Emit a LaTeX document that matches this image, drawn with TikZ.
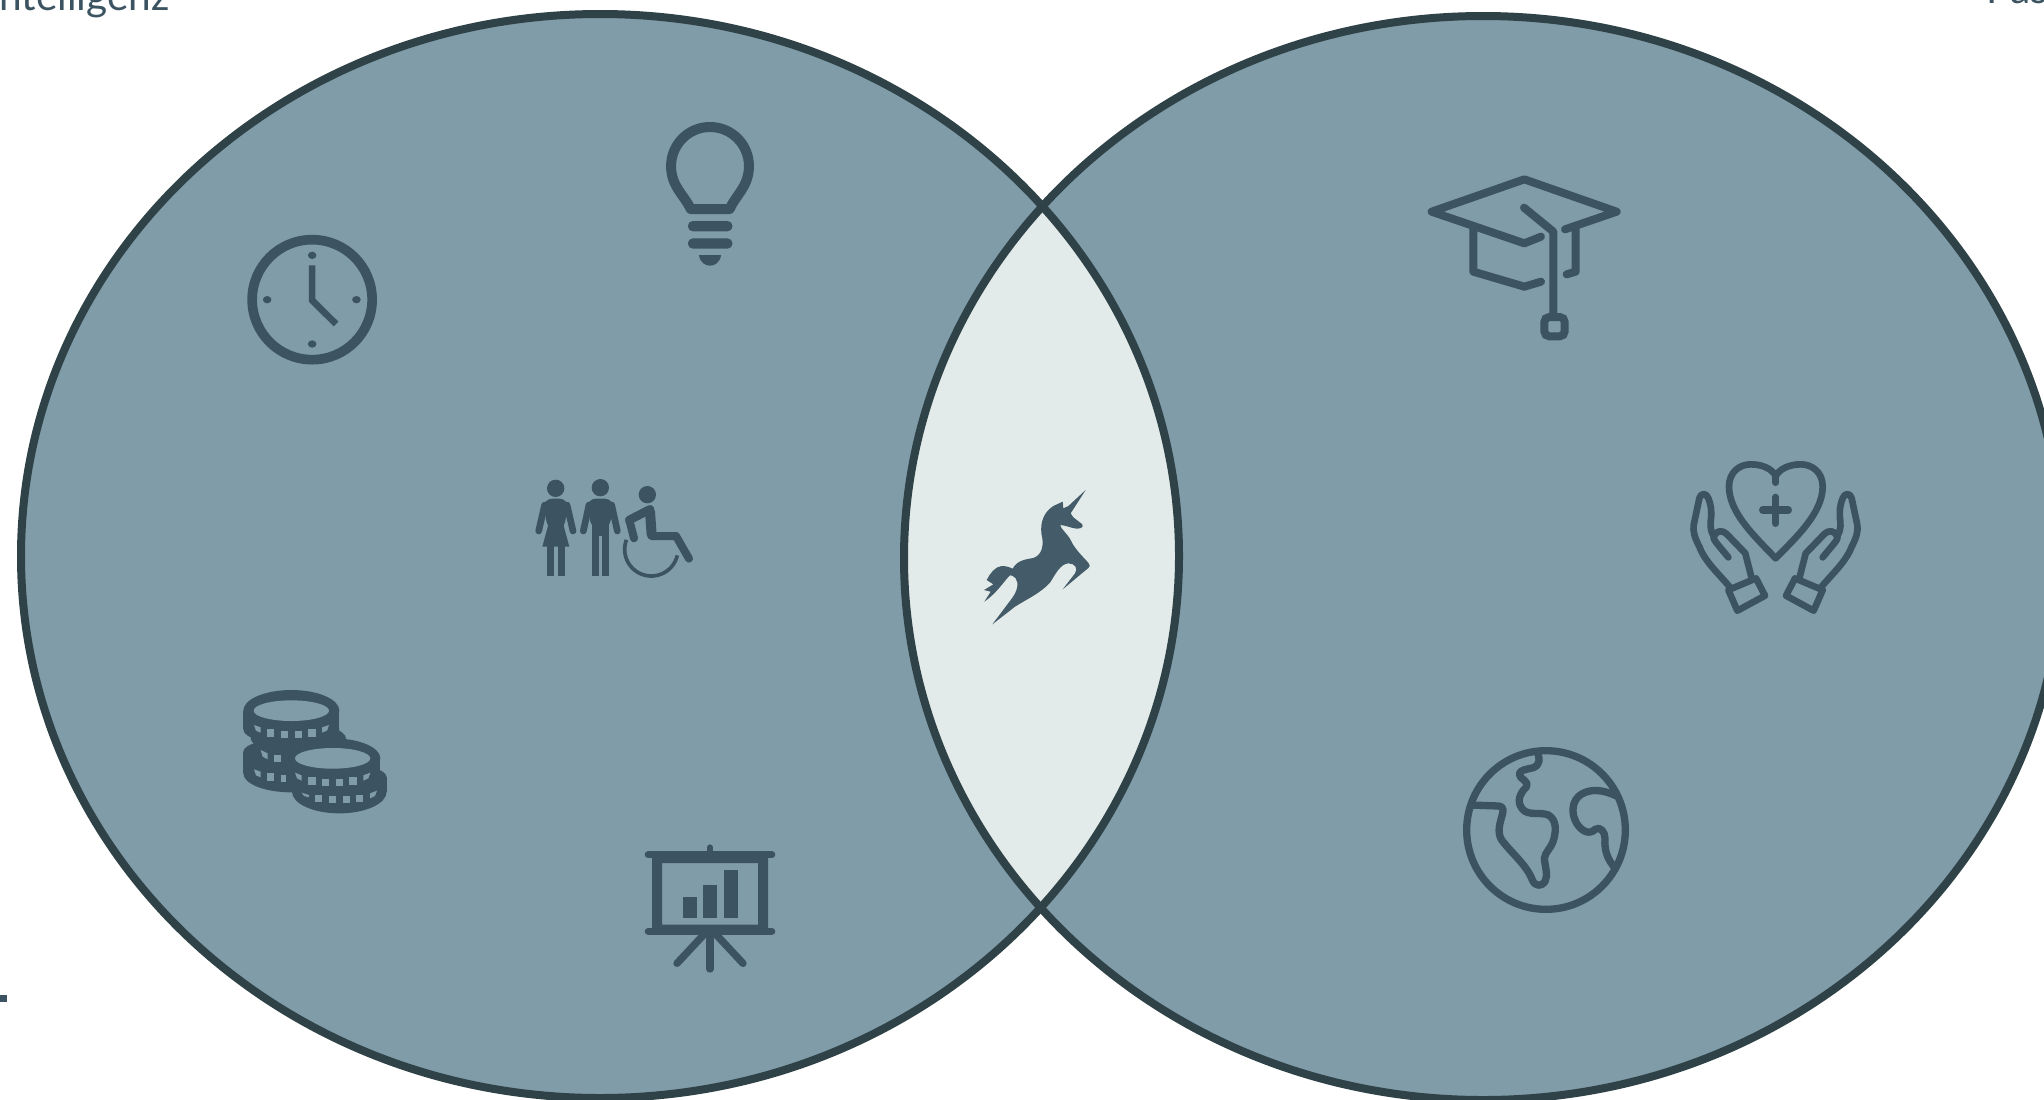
\documentclass[tikz,border=0pt]{standalone}
\usepackage{fontspec}
\setmainfont{Lato}
\definecolor{discfill}{HTML}{809CA8}
\definecolor{lensfill}{HTML}{E2EBE9}
\definecolor{discline}{HTML}{2F4247}
\definecolor{iconcol}{HTML}{3C5361}
\definecolor{unicorncol}{HTML}{445C69}
\tikzset{
  zw/.style={line width=#1*0.16667pt},
  iconline/.style={draw=iconcol,zw=#1,line cap=round,line join=round},
  iconfill/.style={fill=iconcol,draw=none},
  holefill/.style={fill=discfill,draw=none},
  zoomed/.style={shift={#1},scale=0.33333},
  wide/.style={shift={#1},xscale=0.35714,yscale=0.33333},
  disc/.style={x radius=579,y radius=542}
}
\begin{document}
\begin{tikzpicture}[x=0.5pt,y=-0.5pt]
\useasboundingbox (0,0) rectangle (2044,1099);
\clip (0,0) rectangle (2044,1099);
\fill[white] (0,0) rectangle (2044,1099);
\coordinate (lc) at (600,556);
\coordinate (rc) at (1483,558);
% discs
\fill[discfill] (lc) ellipse[disc];
\fill[discfill] (rc) ellipse[disc];
\begin{scope}
  \clip (lc) ellipse[disc];
  \fill[lensfill] (rc) ellipse[disc];
\end{scope}
\draw[discline,line width=4pt] (lc) ellipse[disc];
\draw[discline,line width=4pt] (rc) ellipse[disc];
% clipped labels
\node[anchor=base west,inner sep=0pt,text=iconcol,font=\fontsize{20.3pt}{24pt}\selectfont] (lefttext) at (-12,10) {Intelligenz};
\node[anchor=base west,inner sep=0pt,text=iconcol,font=\fontsize{20.3pt}{24pt}\selectfont] (righttext) at (1986,3) {Pas};
\fill[iconcol] (0,995) rectangle (7,1002);
% clock and bulb
\begin{scope}[wide={(220,90)}]
  \draw[iconline=29] (258,629) ellipse[x radius=168,y radius=180];
  \foreach \p in {(258,496),(258,762),(132,629),(382,629)} \fill[iconcol] \p ellipse[x radius=12,y radius=11];
  \draw[draw=iconcol,zw=20,line join=miter] (258,526) -- (258,631) -- (325,702);
  \draw[iconline=30] (1318,357) .. controls (1300,315) and (1263,290) .. (1263,228)
    .. controls (1263,165) and (1310,111) .. (1372,111)
    .. controls (1434,111) and (1481,165) .. (1481,228)
    .. controls (1481,290) and (1444,315) .. (1427,357) -- cycle;
  \fill[iconcol,rounded corners=15*0.16667pt] (1310,393) rectangle (1435,424);
  \fill[iconcol,rounded corners=15*0.16667pt] (1310,445) rectangle (1435,476);
  \fill[iconcol] (1341,495) -- (1403,495) .. controls (1400,518) and (1385,527) .. (1372,527) .. controls (1359,527) and (1344,518) .. (1341,495) -- cycle;
\end{scope}
% people
\begin{scope}[zoomed={(510,460)}]
  \fill[iconcol] (137,85) circle[radius=26];
  \draw[iconline=20] (104,135) -- (86,213);
  \draw[iconline=20] (171,135) -- (189,213);
  \fill[iconcol,rounded corners=5pt] (97,116) -- (178,116) -- (160,215) -- (115,215) -- cycle;
  \fill[iconcol] (116,190) -- (159,190) -- (178,260) -- (97,260) -- cycle;
  \fill[iconcol] (111,255) rectangle (132,347);
  \fill[iconcol] (143,255) rectangle (164,347);
  \fill[iconcol] (271,83) circle[radius=26];
  \draw[iconline=20] (237,135) -- (220,213);
  \draw[iconline=20] (305,135) -- (322,213);
  \fill[iconcol,rounded corners=5pt] (228,116) -- (314,116) -- (297,210) -- (245,210) -- cycle;
  \fill[iconcol] (245,190) rectangle (297,228);
  \fill[iconcol] (245,220) rectangle (266,347);
  \fill[iconcol] (276,220) rectangle (297,347);
  \fill[iconcol] (412,104) circle[radius=26];
  \draw[iconline=24] (358,180) -- (372,235);
  \draw[iconline=26] (358,180) -- (420,148);
  \draw[iconline=30] (420,155) -- (425,224);
  \draw[iconline=24] (425,228) -- (498,228) -- (537,296);
  \draw[draw=iconcol,zw=11] plot[domain=159:347,samples=40] ({424+80*cos(\x)},{268-80*sin(\x)});
\end{scope}
% coins
\begin{scope}[zoomed={(220,670)}]
  \fill[iconcol] (214,122) ellipse[x radius=144,y radius=62];
  \fill[iconcol] (70,122) rectangle (358,178);
  \fill[iconcol] (214,178) ellipse[x radius=144,y radius=45];
  \fill[iconcol] (235,205) ellipse[x radius=143,y radius=45];
  \fill[iconcol] (214,245) ellipse[x radius=144,y radius=40];
  \fill[iconcol] (70,245) rectangle (358,310);
  \fill[iconcol] (214,310) ellipse[x radius=144,y radius=57];
  \fill[iconcol] (338,265) ellipse[x radius=143,y radius=60];
  \fill[iconcol] (195,265) rectangle (481,320);
  \fill[iconcol] (358,322) ellipse[x radius=142,y radius=42];
  \fill[iconcol] (216,322) rectangle (500,365);
  \fill[iconcol] (358,365) ellipse[x radius=142,y radius=65];
  \fill[holefill] (214,122) ellipse[x radius=113,y radius=31];
  \fill[holefill] (338,265) ellipse[x radius=113,y radius=31];
  \foreach \a/\b/\c/\d in {142/178/163/200,183/183/204/204,225/183/246/204,265/178/287/200,
     163/255/183/275,142/310/163/332,183/316/197/336,
     265/322/287/344,306/328/327/348,348/328/369/348,388/322/410/344,
     286/375/307/395,327/378/348/398,368/378/389/398,409/375/430/395}
    \fill[holefill] (\a,\b) rectangle (\c,\d);
  \fill[holefill] (102,165) -- (122,172) -- (122,188) -- (108,182) -- cycle;
  \fill[holefill] (327,165) -- (306,172) -- (306,188) -- (321,182) -- cycle;
  \fill[holefill] (122,240) -- (143,250) -- (143,268) -- (128,260) -- cycle;
  \fill[holefill] (102,298) -- (122,305) -- (122,322) -- (108,316) -- cycle;
  \fill[holefill] (225,308) -- (245,316) -- (245,332) -- (231,325) -- cycle;
  \fill[holefill] (451,308) -- (430,316) -- (430,332) -- (445,325) -- cycle;
  \fill[holefill] (245,368) -- (267,375) -- (267,382) -- (252,378) -- cycle;
  \fill[holefill] (471,362) -- (450,370) -- (450,385) -- (465,378) -- cycle;
\end{scope}
% presentation board
\begin{scope}[zoomed={(620,830)}]
  \draw[iconline=20] (270,53) -- (270,74);
  \draw[iconline=22] (85,74) -- (455,74);
  \draw[iconline=22] (85,304) -- (455,304);
  \fill[iconcol,even odd rule] (96,74) rectangle (444,304) (126,99) rectangle (414,284);
  \fill[iconcol] (189,201) rectangle (231,264);
  \fill[iconcol] (249,165) rectangle (291,264);
  \fill[iconcol] (312,120) rectangle (354,264);
  \draw[iconline=22] (270,304) -- (270,417);
  \draw[iconline=22] (255,310) -- (171,400);
  \draw[iconline=22] (285,310) -- (369,400);
\end{scope}
% unicorn
\begin{scope}[zoomed={(960,470)}]
  \fill[unicorncol] (377,60) -- (332,130) -- (340,142) -- (366,162)
    .. controls (372,170) and (365,176) .. (350,176)
    .. controls (335,175) and (315,165) .. (300,165)
    .. controls (303,178) and (322,190) .. (333,212)
    .. controls (342,232) and (360,252) .. (385,278)
    .. controls (391,285) and (390,290) .. (385,294)
    -- (308,358) -- (345,310)
    .. controls (355,295) and (345,280) .. (325,280)
    .. controls (300,282) and (285,315) .. (270,338)
    .. controls (240,370) and (205,385) .. (165,410)
    -- (97,463) -- (152,390)
    .. controls (172,365) and (178,340) .. (167,325)
    .. controls (160,318) and (155,315) .. (150,316)
    .. controls (130,335) and (115,365) .. (73,395)
    -- (92,365) -- (72,360) -- (100,343) -- (80,330)
    .. controls (90,310) and (105,290) .. (125,288)
    .. controls (140,288) and (150,292) .. (158,296)
    .. controls (170,272) and (195,268) .. (220,264)
    .. controls (245,255) and (250,230) .. (247,205)
    .. controls (238,170) and (245,130) .. (280,108)
    -- (308,95) -- (310,115) -- (325,108) -- cycle;
\end{scope}
% graduation cap
\begin{scope}[zoomed={(1410,160)}]
  \draw[iconline=24] (393,230) -- (343,250) -- (65,155) -- (343,58) -- (620,155) -- (465,208);
  \draw[iconline=24] (190,205) -- (190,335) -- (343,380) -- (393,365);
  \draw[iconline=24] (497,205) -- (497,335) -- (470,343);
  \draw[iconline=24] (342,143) -- (430,215) -- (430,470);
  \draw[draw=iconcol,zw=24,rounded corners=15*0.16667pt] (403,471) rectangle (464,529);
\end{scope}
% heart in hands
\newcommand{\handoutline}{
  \draw[iconline=20] (150,412) .. controls (115,370) and (75,335) .. (58,290)
    .. controls (45,265) and (38,245) .. (41,225)
    -- (58,145) .. controls (62,128) and (80,128) .. (85,145)
    .. controls (95,170) and (95,190) .. (92,215)
    .. controls (90,235) and (95,250) .. (102,258)
    .. controls (110,240) and (128,240) .. (140,252)
    -- (196,310) -- (215,385);
  \draw[iconline=20] (145,322) -- (112,282) .. controls (102,270) and (98,262) .. (102,258);
  \draw[iconline=20] (145,420) -- (228,385) -- (255,437) -- (172,482) -- cycle;
}
\begin{scope}[zoomed={(1680,450)}]
  \draw[iconline=20] (287,325) .. controls (230,265) and (147,190) .. (147,110)
    .. controls (147,65) and (180,43) .. (212,43)
    .. controls (245,43) and (275,55) .. (287,78)
    .. controls (300,55) and (330,43) .. (362,43)
    .. controls (395,43) and (428,65) .. (428,110)
    .. controls (428,190) and (345,265) .. (287,325) -- cycle;
  \draw[iconline=20] (287,78) -- (287,98);
  \draw[iconline=22] (248,180) -- (325,180);
  \draw[iconline=22] (287,142) -- (287,220);
  \handoutline
  \begin{scope}[shift={(573,0)},xscale=-1]
    \handoutline
  \end{scope}
\end{scope}
% earth
\begin{scope}[zoomed={(1450,730)}]
  \draw[iconline=22] (288,300) circle[radius=238];
  \draw[iconline=22] (260,65) .. controls (272,85) and (270,105) .. (250,113)
    .. controls (230,118) and (208,120) .. (208,132)
    .. controls (208,150) and (240,150) .. (228,172)
    .. controls (210,190) and (198,215) .. (218,238)
    .. controls (235,258) and (270,245) .. (295,255)
    .. controls (320,270) and (318,300) .. (312,325)
    .. controls (305,355) and (285,365) .. (283,385)
    .. controls (285,410) and (295,435) .. (285,455)
    .. controls (275,470) and (255,470) .. (247,450)
    .. controls (230,405) and (185,370) .. (155,330)
    .. controls (140,305) and (150,280) .. (158,250)
    .. controls (162,235) and (155,228) .. (145,228)
    -- (65,225);
  \draw[iconline=22] (498,197) .. controls (460,180) and (425,175) .. (395,192)
    .. controls (365,210) and (362,250) .. (380,280)
    .. controls (395,305) and (420,315) .. (435,298)
    .. controls (450,288) and (465,305) .. (465,325)
    .. controls (462,365) and (475,390) .. (495,415);
\end{scope}
\end{tikzpicture}
\end{document}
